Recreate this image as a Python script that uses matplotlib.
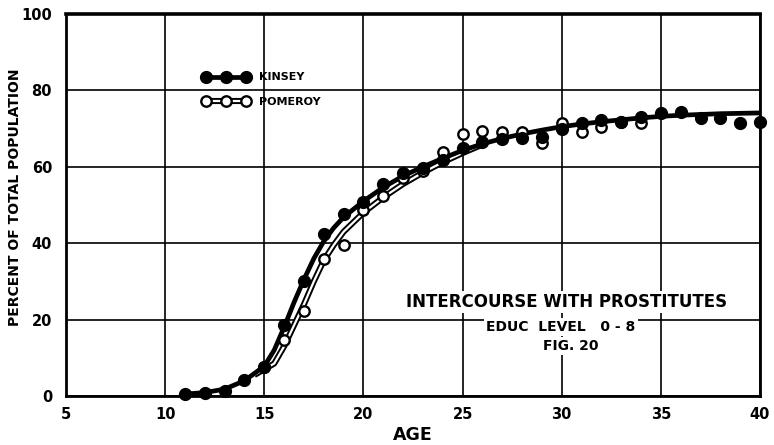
import matplotlib.pyplot as plt
import matplotlib.patheffects as pe

# observed points (age, percent)
kinsey_age = list(range(11, 41))
kinsey_pct = [0.5, 0.8, 1.3, 4.2, 7.6, 18.6, 30.0, 42.4, 47.6, 50.9,
              55.4, 58.3, 59.6, 61.8, 65.0, 66.5, 67.4, 67.5, 67.9, 70.0,
              71.4, 72.2, 71.8, 73.1, 74.0, 74.4, 72.7, 72.7, 71.4, 71.8]

pomeroy_age = list(range(15, 35))
pomeroy_pct = [7.5, 14.6, 22.3, 35.8, 39.5, 48.7, 52.4, 57.0, 59.0, 63.9,
               68.6, 69.5, 69.2, 69.2, 66.1, 71.4, 69.2, 70.5, 71.8, 71.4]

# fitted curves
kinsey_curve_age = [11, 12, 13, 14, 15, 15.5, 16, 16.5, 17, 17.5, 18, 18.5, 19, 20,
                    21, 22, 23, 24, 25, 26, 27, 28, 29, 30, 31, 32, 33, 34, 35,
                    36, 37, 38, 39, 40]
kinsey_curve_pct = [0.5, 0.9, 1.8, 4.0, 7.8, 12.0, 18.0, 24.5, 30.5, 36.0, 40.5, 44.0,
                    46.8, 51.0, 54.6, 57.6, 60.0, 62.2, 64.3, 66.0, 67.4, 68.6, 69.6,
                    70.5, 71.2, 71.8, 72.3, 72.8, 73.2, 73.5, 73.7, 73.9, 74.0, 74.1]

pomeroy_curve_age = [14.5, 15, 15.5, 16, 16.5, 17, 17.5, 18, 18.5, 19, 20, 21, 22,
                     23, 24, 25, 26]
pomeroy_curve_pct = [5.5, 7.0, 8.5, 13.0, 18.5, 24.0, 30.0, 35.5, 39.5, 43.0, 48.0,
                     52.0, 55.5, 58.5, 61.2, 63.6, 65.8]

x_ticks = [5, 10, 15, 20, 25, 30, 35, 40]
y_ticks = [0, 20, 40, 60, 80, 100]

plt.rcParams['font.family'] = 'DejaVu Sans'
plt.rcParams['font.weight'] = 'bold'
plt.rcParams['axes.labelweight'] = 'bold'

fig = plt.figure(figsize=(7.74, 4.45), dpi=100)
ax = fig.add_axes([66 / 774, 1 - 396 / 445, 694 / 774, 382 / 445])

ax.set_xlim(5, 40)
ax.set_ylim(0, 100)
ax.set_xticks(x_ticks)
ax.set_yticks(y_ticks)
ax.tick_params(length=0, labelsize=10.5)
ax.tick_params(axis='x', pad=8)
ax.tick_params(axis='y', pad=10)
ax.grid(True, color='black', linewidth=1.2)
ax.set_axisbelow(True)
for s in ax.spines.values():
    s.set_linewidth(2)
ax.spines['top'].set_linewidth(2.6)

# curves
pom_line, = ax.plot(pomeroy_curve_age, pomeroy_curve_pct, color='white', lw=1.6,
                    zorder=3, solid_capstyle='butt',
                    path_effects=[pe.Stroke(linewidth=4.4, foreground='black'), pe.Normal()])
kin_line, = ax.plot(kinsey_curve_age, kinsey_curve_pct, color='black', lw=3.4,
                    zorder=4, solid_capstyle='round')

# points
pom_mark, = ax.plot(pomeroy_age, pomeroy_pct, 'o', ms=7.5, mfc='white', mec='black',
                    mew=1.7, zorder=5)
kin_mark, = ax.plot(kinsey_age, kinsey_pct, 'o', ms=8.5, color='black', zorder=6,
                    clip_on=False)

ax.legend([(kin_line, kin_mark), (pom_line, pom_mark)], ['KINSEY', 'POMEROY'],
          loc='upper left', bbox_to_anchor=(0.197, 0.847), frameon=False,
          fontsize=8, numpoints=3, handlelength=4.2, handletextpad=0.9,
          labelspacing=1.3, borderpad=0, borderaxespad=0)

ax.set_xlabel('AGE', fontsize=12.5)
ax.xaxis.set_label_coords(0.5, -0.078)
ax.set_ylabel('PERCENT OF TOTAL POPULATION', fontsize=10)
ax.yaxis.set_label_coords(-0.063, 0.52)

box = dict(facecolor='white', edgecolor='none', pad=1.5)
ax.text(30.26, 24.6, 'INTERCOURSE WITH PROSTITUTES', fontsize=12, ha='center',
        va='center', bbox=box, zorder=7)
ax.text(29.96, 18.1, 'EDUC  LEVEL   0 - 8', fontsize=10, ha='center', va='center',
        bbox=box, zorder=7)
ax.text(30.47, 13.1, 'FIG. 20', fontsize=10, ha='center', va='center', bbox=box,
        zorder=7)

plt.savefig('out.png', dpi=100)
